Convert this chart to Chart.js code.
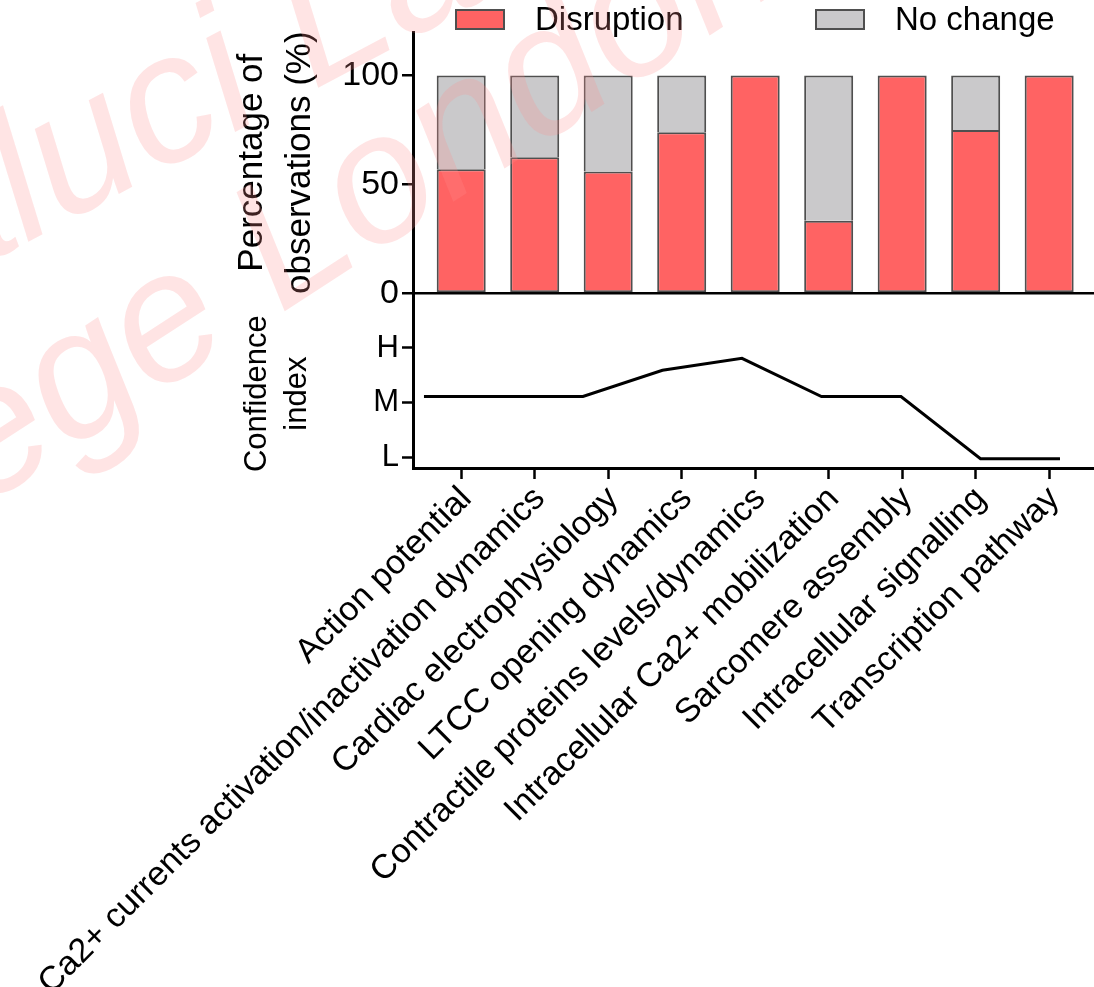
<!DOCTYPE html>
<html>
<head>
<meta charset="utf-8">
<script src="https://cdn.jsdelivr.net/npm/chart.js@4.4.0/dist/chart.umd.min.js"></script>
<style>
    html, body { margin: 0; padding: 0; background: #fff; }
    canvas { display: block; }
</style>
</head>
<body>
<canvas id="mainChart" width="1094" height="987"></canvas>
<script>
// Categories shared by both panels
const categories = [
    'Action potential',
    'Ca2+ currents activation/inactivation dynamics',
    'Cardiac electrophysiology',
    'LTCC opening dynamics',
    'Contractile proteins levels/dynamics',
    'Intracellular Ca2+ mobilization',
    'Sarcomere assembly',
    'Intracellular signalling',
    'Transcription pathway'
];

// Percentage of observations (%)
const disruption = [57, 62.5, 56, 74, 100, 33.3, 100, 75, 100];
const noChange = [43, 37.5, 44, 26, 0, 66.7, 0, 25, 0];

// Confidence index (L = 1, M = 2, H = 3)
const confidence = [2.11, 2.11, 2.11, 2.59, 2.81, 2.11, 2.11, 0.97, 0.97];

// Tick labels
const percentTicks = [0, 50, 100];
const confidenceTicks = [1, 2, 3];
const confidenceLabels = ['L', 'M', 'H'];

const FONT = '"Liberation Sans", Arial, Helvetica, sans-serif';
const RED = '#FF6363';
const GREY = '#CAC9CB';
const EDGE = '#4f4f4f';

// Legend drawn above the plot
const legendPlugin = {
    id: 'topLegend',
    afterDraw(chart) {
        const ctx = chart.ctx;
        const spots = [455, 815];
        ctx.save();
        chart.data.datasets.filter(d => d.type === 'bar').forEach((ds, i) => {
            const x = spots[i];
            ctx.fillStyle = ds.backgroundColor;
            ctx.fillRect(x, 9, 50, 21);
            ctx.strokeStyle = ds.borderColor;
            ctx.lineWidth = 2;
            ctx.strokeRect(x + 1, 10, 48, 19);
            ctx.fillStyle = '#000';
            ctx.font = '33px ' + FONT;
            ctx.textBaseline = 'middle';
            ctx.textAlign = 'left';
            ctx.fillText(ds.label, x + 80, 21);
        });
        ctx.restore();
    }
};

// Faint watermark lying over the figure
function drawMark(ctx, text, x, y, angle) {
    ctx.save();
    ctx.translate(x, y);
    ctx.rotate(angle * Math.PI / 180);
    ctx.fillText(text, 0, 0);
    ctx.restore();
}

const watermarkPlugin = {
    id: 'watermark',
    afterDraw(chart) {
        const ctx = chart.ctx;
        ctx.save();
        ctx.fillStyle = 'rgba(255, 141, 141, 0.24)';
        ctx.font = 'italic 183px ' + FONT;
        ctx.textBaseline = 'alphabetic';
        ctx.textAlign = 'left';
        drawMark(ctx, 'aluci Lab', -64, 291, -28);
        drawMark(ctx, 'College London', -283, 680, -33);
        ctx.restore();
    }
};

const tickFont = { family: FONT, size: 34 };

new Chart(document.getElementById('mainChart'), {
    data: {
        datasets: [
            {
                type: 'bar',
                label: 'Disruption',
                data: disruption.map((v, i) => ({ x: i, y: v })),
                backgroundColor: RED,
                borderColor: EDGE,
                borderWidth: 2,
                borderSkipped: false,
                grouped: false,
                xAxisID: 'x',
                yAxisID: 'y',
                barPercentage: 0.667,
                categoryPercentage: 1
            },
            {
                type: 'bar',
                label: 'No change',
                data: noChange.map((v, i) => ({ x: i, y: v })),
                backgroundColor: GREY,
                borderColor: EDGE,
                borderWidth: 2,
                borderSkipped: 'bottom',
                grouped: false,
                xAxisID: 'x',
                yAxisID: 'y',
                barPercentage: 0.667,
                categoryPercentage: 1
            },
            {
                type: 'line',
                label: 'Confidence index',
                data: confidence.map((v, i) => ({ x: i, y: v })),
                borderColor: '#000',
                borderWidth: 3,
                pointRadius: 0,
                tension: 0,
                fill: false,
                xAxisID: 'x2',
                yAxisID: 'y2'
            }
        ]
    },
    options: {
        responsive: false,
        animation: false,
        layout: { padding: { top: 32, left: 0, right: 0, bottom: 0 } },
        plugins: {
            legend: { display: false },
            tooltip: { enabled: false }
        },
        scales: {
            x: {
                type: 'linear',
                position: 'bottom',
                offset: false,
                min: -0.656,
                max: 8.61,
                afterBuildTicks: s => { s.ticks = categories.map((c, i) => ({ value: i })); },
                afterFit: s => { s.height = 519; s.paddingLeft = 0; s.paddingRight = 0; },
                ticks: {
                    autoSkip: false,
                    minRotation: 45,
                    maxRotation: 45,
                    padding: 0,
                    labelOffset: 5,
                    color: '#000',
                    font: tickFont,
                    callback: v => categories[v]
                },
                grid: { offset: false, drawOnChartArea: false, tickLength: 11, color: '#000', tickWidth: 2.5 },
                border: { color: '#000', width: 3 }
            },
            x2: {
                type: 'linear',
                display: false,
                offset: false,
                min: -0.138,
                max: 8.428
            },
            // lower panel (listed first so it sits below in the stack)
            y2: {
                type: 'linear',
                position: 'left',
                stack: 'panels',
                stackWeight: 175,
                min: 0.8,
                max: 4.0,
                afterBuildTicks: s => { s.ticks = confidenceTicks.map(v => ({ value: v })); },
                afterFit: s => { s.width = 413; s.paddingTop = 0; s.paddingBottom = 0; },
                ticks: {
                    padding: 3,
                    color: '#000',
                    font: { family: FONT, size: 31 },
                    callback: v => confidenceLabels[confidenceTicks.indexOf(v)]
                },
                grid: {
                    drawOnChartArea: false,
                    color: '#000',
                    tickWidth: 2.5,
                    tickLength: 11
                },
                border: { color: '#000', width: 3 },
                title: {
                    display: true,
                    text: ['Confidence   ', 'index   '],
                    color: '#000',
                    font: { family: FONT, size: 31, lineHeight: 1.3 },
                    padding: { top: 237, bottom: 0 }
                }
            },
            y: {
                type: 'linear',
                position: 'left',
                stack: 'panels',
                stackWeight: 262,
                stacked: true,
                min: 0,
                max: 120,
                afterBuildTicks: s => { s.ticks = percentTicks.map(v => ({ value: v })); },
                afterFit: s => { s.width = 413; s.paddingTop = 0; s.paddingBottom = 0; },
                ticks: { padding: 3, color: '#000', font: tickFont },
                grid: {
                    color: c => (c.tick && c.tick.value === 0) ? '#000' : 'rgba(0,0,0,0)',
                    lineWidth: 2.5,
                    tickColor: '#000',
                    tickWidth: 2.5,
                    tickLength: 11
                },
                border: { color: '#000', width: 3 },
                title: {
                    display: true,
                    text: ['Percentage of', 'observations (%)'],
                    color: '#000',
                    font: { family: FONT, size: 35, lineHeight: 1.37 },
                    padding: { top: 228, bottom: 0 }
                }
            }
        }
    },
    plugins: [legendPlugin, watermarkPlugin]
});
</script>
</body>
</html>
